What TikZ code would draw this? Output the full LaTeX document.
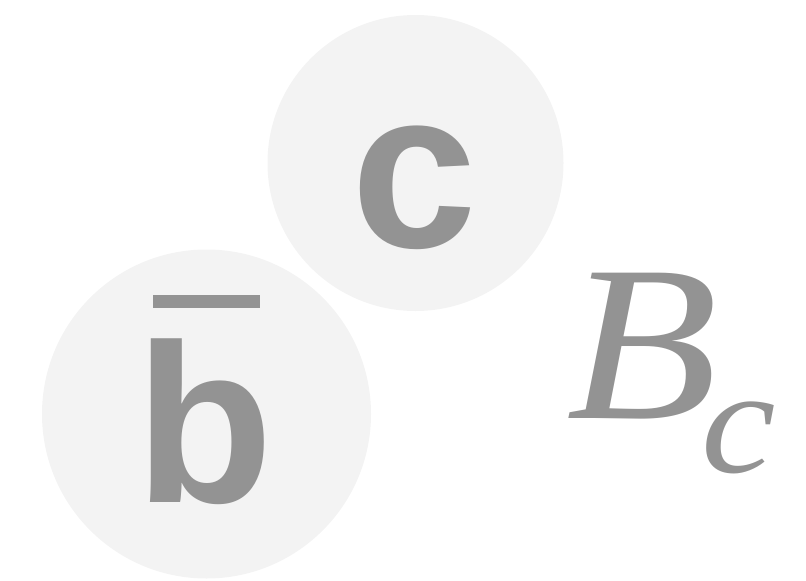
\documentclass[tikz,border=0pt]{standalone}
\usepackage{fontspec}
\setmainfont{Liberation Serif}
\newfontfamily\quarkfont{Liberation Sans}[BoldFont={Liberation Sans Bold}]
\definecolor{disc}{HTML}{F3F3F3}
\definecolor{ink}{HTML}{939393}
\begin{document}
\begin{tikzpicture}[x=1pt,y=-1pt,
  quark/.style={circle,fill=disc,draw=none,minimum size=#1,inner sep=0},
  qlabel/.style={anchor=base west,inner sep=0,text=ink,font=\quarkfont\bfseries\fontsize{226}{226}\selectfont},
  mlabel/.style={anchor=base west,inner sep=0,text=ink,xscale=1.12,transform shape,font=\itshape\fontsize{#1}{#1}\selectfont}]
\useasboundingbox (0,0) rectangle (806,581);
\node[quark=296pt] (cdisc) at (415.5,163) {};
\node[quark=329pt] (bdisc) at (206.5,414) {};
\node[qlabel] (clet) at (351,247) {c};
\node[qlabel] (blet) at (135,502) {b};
\fill[ink] (153,295) rectangle (260,308);
\node[mlabel=222] (Bmeson) at (566,418) {B};
\node[mlabel=150] (Bsub) at (701,472) {c};
\end{tikzpicture}
\end{document}
